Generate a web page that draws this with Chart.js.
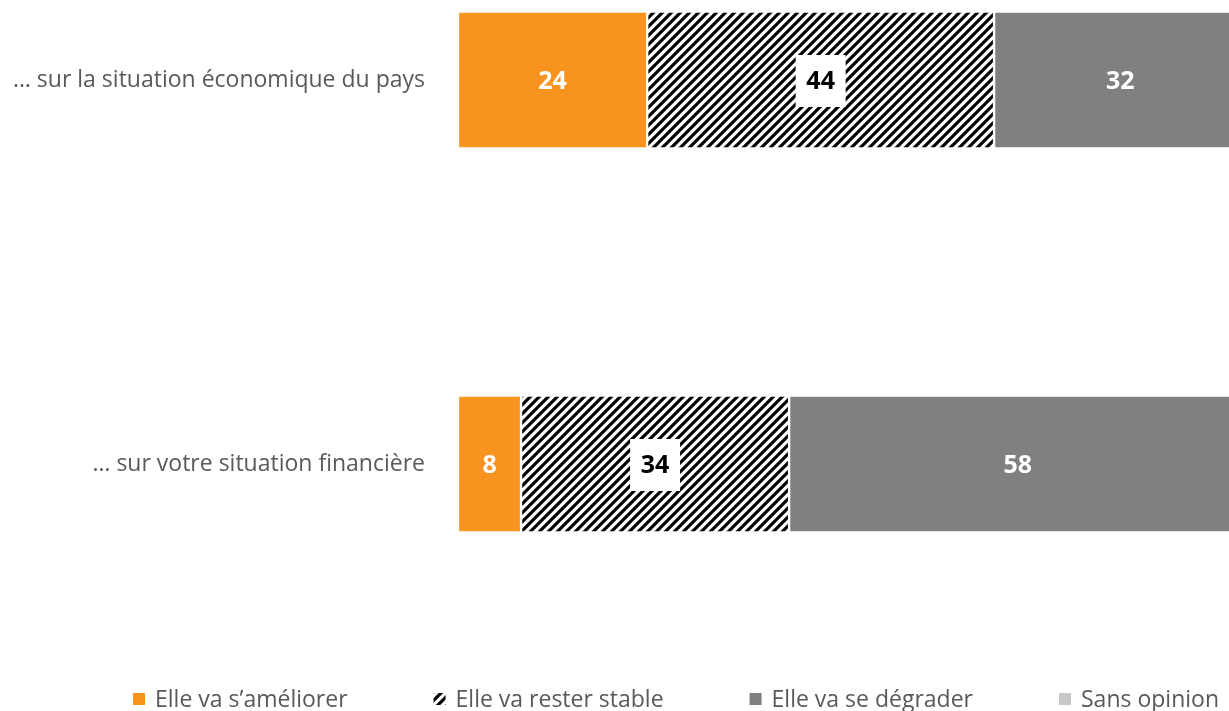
<!DOCTYPE html>
<html lang="fr">
<head>
  <meta charset="UTF-8">
  <title>Situation économique et financière</title>
  <script src="https://cdn.jsdelivr.net/npm/chart.js"></script>
  <style>
    body {
      margin: 0;
      background: #fff;
    }
    .wrap {
      width: 1229px;
      height: 711px;
    }
  </style>
</head>
<body>
  <div class="wrap">
    <canvas id="chart"></canvas>
  </div>

  <script>
    // Values
    const categories = ['… sur la situation économique du pays', '… sur votre situation financière'];
    const seriesNames = ['Elle va s’améliorer', 'Elle va rester stable', 'Elle va se dégrader', 'Sans opinion'];
    const ameliorer = [24, 8];
    const stable = [44, 34];
    const degrader = [32, 58];
    const sansOpinion = [0, 0];

    const ORANGE = '#f7931e';
    const GREY = '#808080';
    const LIGHT = '#c8c8c8';
    const TEXT = '#595959';
    const FONT = '"Open Sans", sans-serif';

    // diagonal black/white hatch for the "stable" series
    function makeHatch() {
      const c = document.createElement('canvas');
      c.width = 9; c.height = 9;
      const g = c.getContext('2d');
      g.fillStyle = '#fff';
      g.fillRect(0, 0, 9, 9);
      g.strokeStyle = '#000';
      g.lineWidth = 3.2;
      g.beginPath();
      g.moveTo(-1, 10); g.lineTo(10, -1);
      g.moveTo(-2, 2); g.lineTo(2, -2);
      g.moveTo(7, 11); g.lineTo(11, 7);
      g.stroke();
      return g.createPattern(c, 'repeat');
    }
    const hatch = makeHatch();

    // value labels in the middle of each segment
    const barLabels = {
      id: 'barLabels',
      afterDatasetsDraw(chart) {
        const ctx = chart.ctx;
        ctx.save();
        ctx.font = 'bold 25px ' + FONT;
        ctx.textAlign = 'center';
        ctx.textBaseline = 'middle';
        chart.data.datasets.forEach((ds, i) => {
          const meta = chart.getDatasetMeta(i);
          meta.data.forEach((bar, j) => {
            const v = ds.data[j];
            if (!v) return;
            const x = (bar.x + bar.base) / 2;
            const y = bar.y;
            if (ds.boxedLabel) {
              ctx.fillStyle = '#fff';
              ctx.fillRect(x - 25, y - 25, 50, 52);
              ctx.fillStyle = '#000';
            } else {
              ctx.fillStyle = '#fff';
            }
            ctx.fillText(String(v), x, y + 2);
          });
        });
        ctx.restore();
      }
    };

    // bottom legend, spaced like the reference (wide gaps, right of centre)
    const bottomLegend = {
      id: 'bottomLegend',
      afterDraw(chart) {
        const ctx = chart.ctx;
        const box = 12, gapText = 10, gapItem = 86, centre = 676, yMid = 699;
        ctx.save();
        ctx.font = '23px ' + FONT;
        ctx.textBaseline = 'middle';
        const items = chart.data.datasets.map(ds => ({
          text: ds.label,
          color: ds.backgroundColor,
          w: box + gapText + ctx.measureText(ds.label).width
        }));
        const total = items.reduce((s, it) => s + it.w, 0) + gapItem * (items.length - 1);
        let x = centre - total / 2;
        items.forEach(it => {
          ctx.fillStyle = it.color;
          ctx.fillRect(x, yMid - box / 2, box, box);
          ctx.fillStyle = TEXT;
          ctx.fillText(it.text, x + box + gapText, yMid + 1);
          x += it.w + gapItem;
        });
        ctx.restore();
      }
    };

    new Chart(document.getElementById('chart'), {
      type: 'bar',
      data: {
        labels: categories,
        datasets: [
          { label: seriesNames[0], data: ameliorer, backgroundColor: ORANGE },
          { label: seriesNames[1], data: stable, backgroundColor: hatch, boxedLabel: true },
          { label: seriesNames[2], data: degrader, backgroundColor: GREY },
          { label: seriesNames[3], data: sansOpinion, backgroundColor: LIGHT }
        ].map(d => Object.assign({
          borderColor: '#fff',
          borderWidth: 1.5,
          borderSkipped: false,
          barThickness: 137,
          clip: false
        }, d))
      },
      options: {
        indexAxis: 'y',
        responsive: true,
        maintainAspectRatio: false,
        animation: false,
        layout: {
          padding: { top: 80, left: 0, right: 0, bottom: 0 }
        },
        scales: {
          x: {
            stacked: true,
            min: 0,
            // the reference picture is cut at the right edge: the grey bars run past it
            max: 97.8,
            grid: { display: false },
            border: { display: false },
            ticks: { display: false },
            afterFit(scale) { scale.height = 711 - 464; }
          },
          y: {
            stacked: true,
            offset: false,
            grid: { display: false },
            border: { display: false },
            ticks: {
              color: TEXT,
              padding: 25,
              font: { family: FONT, size: 23 }
            },
            afterFit(scale) { scale.width = 458; }
          }
        },
        plugins: {
          legend: { display: false },
          tooltip: { enabled: false }
        }
      },
      plugins: [barLabels, bottomLegend]
    });
  </script>
</body>
</html>
